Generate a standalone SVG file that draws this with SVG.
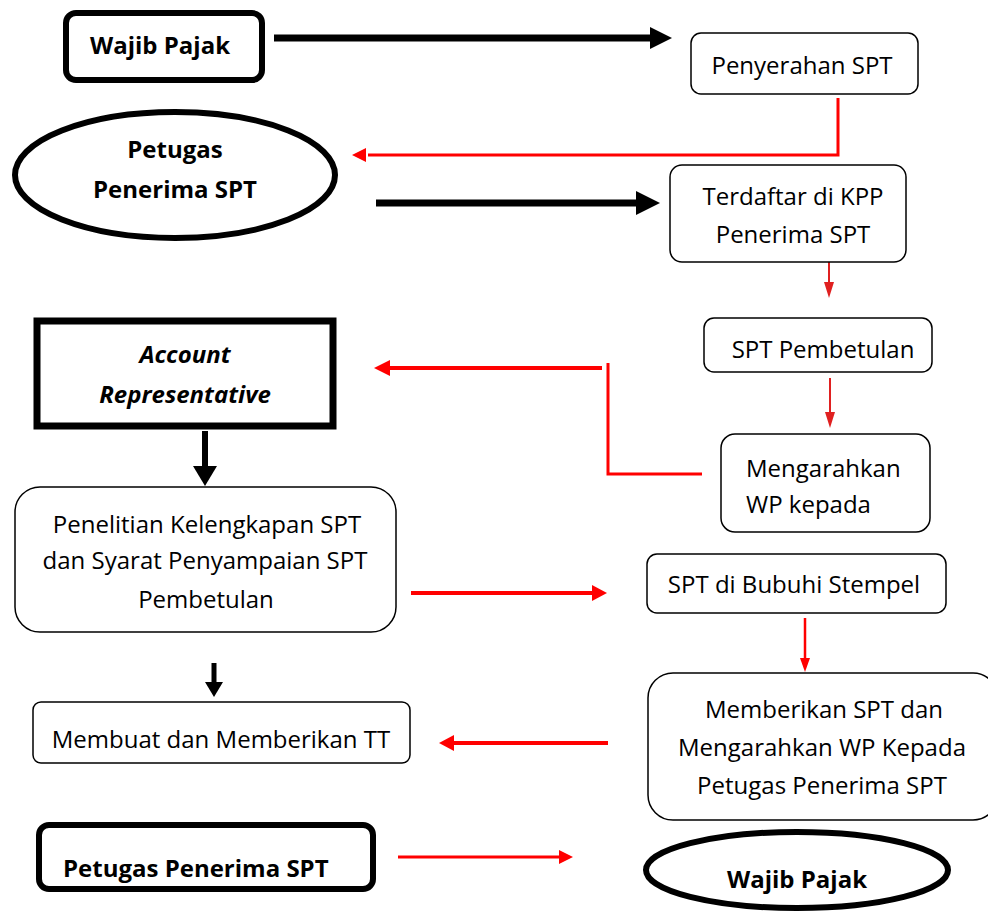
<svg xmlns="http://www.w3.org/2000/svg" width="988" height="911" viewBox="0 0 988 911">
<style>
.t{font-family:"Open Sans","Liberation Sans",Arial,sans-serif;font-size:24px;fill:#000}
.b{font-weight:bold}
.thin{fill:#fff;stroke:#000;stroke-width:1.5}
.thick{fill:#fff;stroke:#000;stroke-width:6}
.bl{stroke:#000;fill:none}
.rd{stroke:#f00;fill:none}
</style>
<rect width="988" height="911" fill="#fff"/>
<g id="connectors">
<line class="bl" x1="274" y1="38" x2="652" y2="38" stroke-width="7"/>
<path d="M650,27 L672,38 L650,49 z" fill="#000"/>
<line class="bl" x1="376" y1="203" x2="638" y2="203" stroke-width="7"/>
<path d="M636,191 L660,203 L636,215 z" fill="#000"/>
<line class="bl" x1="205" y1="431" x2="205" y2="468" stroke-width="6"/>
<path d="M193,466 L205,486 L217,466 z" fill="#000"/>
<line class="bl" x1="214" y1="663" x2="214" y2="684" stroke-width="5"/>
<path d="M205,682 L214,697 L223,682 z" fill="#000"/>
<polyline class="rd" points="838,98 838,155 368,155" stroke-width="3"/>
<path d="M366,148 L352,155 L366,162 z" fill="#f00"/>
<line x1="829" y1="250" x2="829" y2="284" stroke="#e02020" stroke-width="2"/>
<path d="M824,282 L829,298 L834,282 z" fill="#e02020"/>
<line x1="830" y1="378" x2="830" y2="414" stroke="#e02020" stroke-width="2"/>
<path d="M825,412 L830,428 L835,412 z" fill="#e02020"/>
<polyline class="rd" points="702,474 608,474 608,363" stroke-width="3"/>
<line class="rd" x1="602" y1="368" x2="388" y2="368" stroke-width="4"/>
<path d="M390,360 L374,368 L390,376 z" fill="#f00"/>
<line class="rd" x1="411" y1="593" x2="594" y2="593" stroke-width="4"/>
<path d="M592,585 L607,593 L592,601 z" fill="#f00"/>
<line class="rd" x1="805" y1="618" x2="805" y2="660" stroke-width="2.5"/>
<path d="M800,658 L805,672 L810,658 z" fill="#f00"/>
<line class="rd" x1="608" y1="743" x2="452" y2="743" stroke-width="4"/>
<path d="M454,735 L439,743 L454,751 z" fill="#f00"/>
<line class="rd" x1="398" y1="857" x2="561" y2="857" stroke-width="3"/>
<path d="M559,850 L573,857 L559,864 z" fill="#f00"/>
</g>
<g id="wajib-pajak-1">
<rect class="thick" x="66" y="13" width="196" height="67" rx="10"/>
<text class="t b" x="160" y="54" text-anchor="middle" font-size="24.5">Wajib Pajak</text>
</g>
<g id="penyerahan">
<rect class="thin" x="691" y="33" width="227" height="61" rx="10"/>
<text class="t" x="802" y="74" text-anchor="middle">Penyerahan SPT</text>
</g>
<g id="petugas-1">
<ellipse class="thick" cx="175" cy="175" rx="160" ry="63"/>
<text class="t b" x="175" y="158" text-anchor="middle" font-size="23">Petugas</text>
<text class="t b" x="175" y="198" text-anchor="middle" font-size="23">Penerima SPT</text>
</g>
<g id="terdaftar">
<rect class="thin" x="670" y="165" width="236" height="97" rx="12"/>
<text class="t" x="793" y="205" text-anchor="middle">Terdaftar di KPP</text>
<text class="t" x="793" y="243" text-anchor="middle">Penerima SPT</text>
</g>
<g id="spt-pembetulan">
<rect class="thin" x="704" y="318" width="228" height="54" rx="10"/>
<text class="t" x="823" y="358" text-anchor="middle">SPT Pembetulan</text>
</g>
<g id="mengarahkan">
<rect class="thin" x="721" y="434" width="209" height="98" rx="14"/>
<text class="t" x="746" y="477" font-size="23">Mengarahkan</text>
<text class="t" x="746" y="513" font-size="23">WP kepada</text>
</g>
<g id="account-representative">
<rect x="37" y="321" width="296" height="105" fill="#fff" stroke="#000" stroke-width="7"/>
<text class="t b" x="185" y="363" text-anchor="middle" font-style="italic" font-size="27">Account</text>
<text class="t b" x="185" y="403" text-anchor="middle" font-style="italic" font-size="27">Representative</text>
</g>
<g id="penelitian">
<rect class="thin" x="15" y="487" width="381" height="145" rx="25"/>
<text class="t" x="207" y="533" text-anchor="middle">Penelitian Kelengkapan SPT</text>
<text class="t" x="205" y="569" text-anchor="middle">dan Syarat Penyampaian SPT</text>
<text class="t" x="206" y="608" text-anchor="middle">Pembetulan</text>
</g>
<g id="stempel">
<rect class="thin" x="647" y="554" width="299" height="59" rx="10"/>
<text class="t" x="794" y="593" text-anchor="middle">SPT di Bubuhi Stempel</text>
</g>
<g id="membuat">
<rect class="thin" x="33" y="702" width="377" height="61" rx="8"/>
<text class="t" x="221" y="748" text-anchor="middle">Membuat dan Memberikan TT</text>
</g>
<g id="memberikan">
<rect class="thin" x="648" y="673" width="350" height="147" rx="25"/>
<text class="t" x="824" y="718" text-anchor="middle">Memberikan SPT dan</text>
<text class="t" x="822" y="756" text-anchor="middle">Mengarahkan WP Kepada</text>
<text class="t" x="822" y="794" text-anchor="middle">Petugas Penerima SPT</text>
</g>
<g id="petugas-2">
<rect class="thick" x="39" y="825" width="334" height="64" rx="10"/>
<text class="t b" x="63" y="877" font-size="24">Petugas Penerima SPT</text>
</g>
<g id="wajib-pajak-2">
<ellipse class="thick" cx="797" cy="870" rx="151" ry="38"/>
<text class="t b" x="797" y="888" text-anchor="middle" font-size="25.5">Wajib Pajak</text>
</g>
</svg>
